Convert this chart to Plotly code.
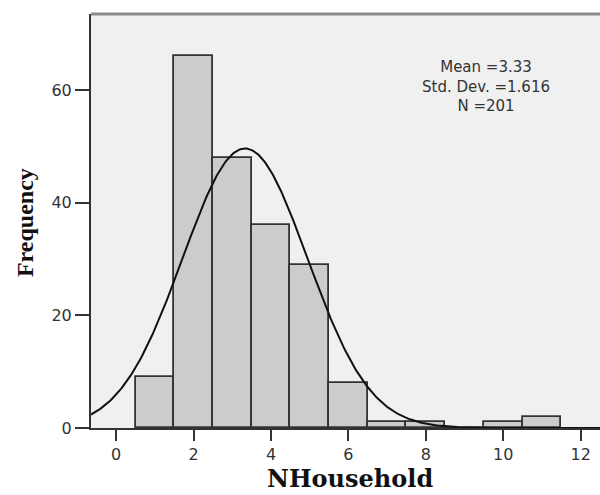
import numpy as np
import plotly.graph_objects as go

# Data
household_sizes = [1, 2, 3, 4, 5, 6, 7, 8, 9, 10, 11]
frequencies = [9, 66, 48, 36, 29, 8, 1, 1, 0, 1, 2]
x_tick_values = [0, 2, 4, 6, 8, 10, 12]
y_tick_values = [0, 20, 40, 60]
stat_mean = 3.33
stat_sd = 1.616
stat_n = 201
stat_lines = ["Mean =3.33", "Std. Dev. =1.616", "N =201"]

x_range = [-0.65, 12.5]
y_range = [0, 73.5]

# Fitted normal curve defined by the reported statistics (bin width 1)
curve_x = np.linspace(x_range[0], x_range[1], 400)
curve_y = stat_n * 1.0 / (stat_sd * np.sqrt(2 * np.pi)) * np.exp(-0.5 * ((curve_x - stat_mean) / stat_sd) ** 2)

fig = go.Figure()
fig.add_trace(go.Bar(
    x=household_sizes, y=frequencies, width=1,
    marker=dict(color="#cccccc", line=dict(color="#333333", width=1.8)),
    showlegend=False,
))
fig.add_trace(go.Scatter(
    x=curve_x, y=curve_y, mode="lines",
    line=dict(color="#111111", width=2), showlegend=False,
))

fig.update_layout(
    width=600, height=495,
    margin=dict(l=91, r=0, t=14, b=67),
    paper_bgcolor="white", plot_bgcolor="#f0f0f0",
    bargap=0,
    xaxis=dict(range=x_range, tickvals=x_tick_values, ticks="outside", ticklen=11,
               tickwidth=2, tickcolor="#333333", showline=True, linecolor="#333333",
               linewidth=2, showgrid=False, zeroline=False,
               tickfont=dict(family="DejaVu Sans", size=16, color="#333333")),
    yaxis=dict(range=y_range, tickvals=y_tick_values, ticks="outside", ticklen=14,
               tickwidth=2, tickcolor="#333333", showline=True, linecolor="#333333",
               linewidth=2, showgrid=False, zeroline=False,
               tickfont=dict(family="DejaVu Sans", size=16, color="#333333")),
)

# top border of the plot frame
fig.add_shape(type="line", xref="paper", yref="paper", x0=0, x1=1, y0=1, y1=1,
              line=dict(color="#8a8a8a", width=3))

# stats box text
fig.add_annotation(xref="paper", yref="paper", x=0.776, y=0.825,
                   text="<br>".join(stat_lines), showarrow=False,
                   xanchor="center", yanchor="middle", align="center",
                   font=dict(family="DejaVu Sans", size=15, color="#333333"))

# axis titles
fig.add_annotation(xref="paper", yref="paper", x=0.509, y=-0.122, text="<b>NHousehold</b>",
                   showarrow=False, xanchor="center", yanchor="middle",
                   font=dict(family="DejaVu Serif", size=24, color="#111111"))
fig.add_annotation(xref="paper", yref="paper", x=-0.13, y=0.497, text="<b>Frequency</b>",
                   showarrow=False, xanchor="center", yanchor="middle", textangle=-90,
                   font=dict(family="Liberation Serif", size=24, color="#111111"))

fig.write_html("out.html")
